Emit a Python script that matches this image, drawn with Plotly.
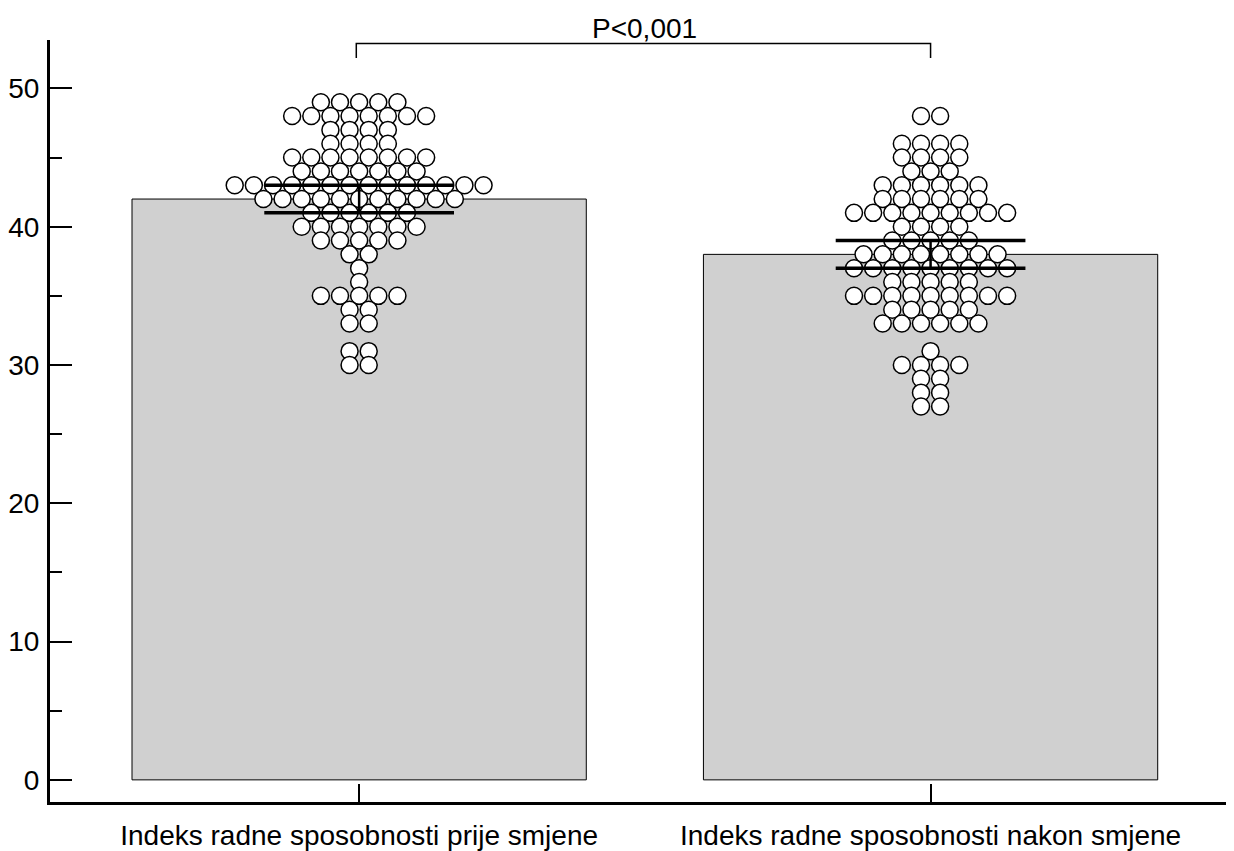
import plotly.graph_objects as go

categories = ["Indeks radne sposobnosti prije smjene", "Indeks radne sposobnosti nakon smjene"]
bar_values = [42, 38]
ci_low = [41, 37]
ci_high = [43, 39]

values_before = [49, 48, 47, 46, 45, 44, 43, 42, 41, 40, 39, 38, 37, 36, 35, 34, 33, 31, 30]
counts_before = [5, 8, 4, 4, 8, 7, 14, 11, 6, 7, 5, 2, 1, 1, 5, 2, 2, 2, 2]
values_after = [48, 46, 45, 44, 43, 42, 41, 40, 39, 38, 37, 36, 35, 34, 33, 31, 30, 29, 28, 27]
counts_after = [2, 4, 4, 3, 6, 6, 9, 4, 5, 8, 9, 5, 9, 5, 6, 1, 4, 2, 2, 2]

p_text = "P<0,001"
y_ticks = [0, 10, 20, 30, 40, 50]

FONT = "Liberation Sans, Arial, sans-serif"
FS = 28
SPACING = 0.0335  # horizontal dot spacing in category units


def dot_layout(center, values, counts):
    xs, ys = [], []
    for v, n in zip(values, counts):
        for i in range(n):
            xs.append(center + (i - (n - 1) / 2) * SPACING)
            ys.append(v)
    return xs, ys


fig = go.Figure()
xpos = list(range(len(categories)))

fig.add_trace(go.Bar(
    x=xpos, y=bar_values, width=0.795,
    marker=dict(color="#d0d0d0", line=dict(color="black", width=1)),
    hoverinfo="skip"))

for c, (vals, cnts) in enumerate([(values_before, counts_before), (values_after, counts_after)]):
    xs, ys = dot_layout(xpos[c], vals, cnts)
    fig.add_trace(go.Scatter(
        x=xs, y=ys, mode="markers",
        marker=dict(size=17, color="white", line=dict(color="black", width=1.5)),
        cliponaxis=False))

# error bars (CI) as lines
HALF = 0.166
for c in range(len(categories)):
    x0 = xpos[c]
    fig.add_trace(go.Scatter(
        x=[x0 - HALF, x0 + HALF, None, x0 - HALF, x0 + HALF],
        y=[ci_low[c], ci_low[c], None, ci_high[c], ci_high[c]],
        mode="lines", line=dict(color="black", width=3.5)))
    fig.add_trace(go.Scatter(
        x=[x0, x0], y=[ci_low[c], ci_high[c]],
        mode="lines", line=dict(color="black", width=2.5)))

# significance bracket
fig.add_trace(go.Scatter(
    x=[xpos[0] - 0.005, xpos[0] - 0.005, xpos[1], xpos[1]],
    y=[52.2, 53.25, 53.25, 52.2],
    mode="lines", line=dict(color="black", width=1.5), cliponaxis=False))
fig.add_annotation(x=(xpos[0] + xpos[1]) / 2, xref="x", y=1.0157, yref="paper",
                   text=p_text, showarrow=False,
                   font=dict(size=FS, color="black", family=FONT), yanchor="middle")

fig.update_layout(
    width=1226, height=843,
    margin=dict(l=39, r=0, t=32, b=49),
    paper_bgcolor="white", plot_bgcolor="white",
    showlegend=False,
    font=dict(family=FONT, size=FS, color="black"),
    xaxis=dict(
        range=[-0.541, 1.531], tickvals=xpos, ticktext=categories,
        showline=True, linecolor="black", linewidth=3,
        ticks="inside", ticklen=18, tickwidth=2, tickcolor="black",
        showgrid=False, zeroline=False, ticklabelstandoff=6,
        tickfont=dict(size=FS, family=FONT, color="black")),
    yaxis=dict(
        range=[-1.6, 53.5], tickvals=y_ticks,
        showline=True, linecolor="black", linewidth=3,
        ticks="inside", ticklen=22, tickwidth=2, tickcolor="black",
        minor=dict(ticks="inside", ticklen=12, tickwidth=1.5, tickcolor="black", dtick=5, tick0=0),
        showgrid=False, zeroline=False, ticklabelstandoff=2,
        tickfont=dict(size=FS, family=FONT, color="black")),
)

fig.write_html("out.html")
